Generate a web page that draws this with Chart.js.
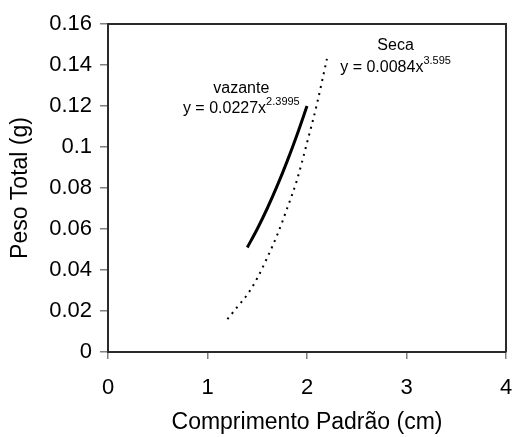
<!DOCTYPE html>
<html>
<head>
<meta charset="utf-8">
<script src="https://cdn.jsdelivr.net/npm/chart.js@4/dist/chart.umd.min.js"></script>
<style>
  html, body { margin: 0; padding: 0; background: #fff; }
  #wrap { width: 513px; height: 437px; }
</style>
</head>
<body>
<div id="wrap"><canvas id="c" width="513" height="437"></canvas></div>
<script>
// ---- data ----
const vazanteX = [1.40, 1.50, 1.60, 1.70, 1.80, 1.90, 2.00];
const vazanteY = [0.051, 0.060, 0.070, 0.081, 0.093, 0.106, 0.120];
const secaX = [1.20, 1.30, 1.40, 1.50, 1.60, 1.70, 1.80, 1.90, 2.00, 2.10, 2.20];
const secaY = [0.016, 0.022, 0.028, 0.036, 0.046, 0.057, 0.070, 0.084, 0.102, 0.121, 0.143];
const seriesNames = ['vazante', 'Seca'];
const equationBase = ['y = 0.0227x', 'y = 0.0084x'];
const equationExp = ['2.3995', '3.595'];
const labelAnchorX = [1.34, 2.89];
const nameAnchorY = [0.1283, 0.1495];
const eqAnchorY = [0.1187, 0.1385];
const xTitle = 'Comprimento Padrão (cm)';
const yTitle = 'Peso Total (g)';

const FONT = '"Liberation Sans", Arial, sans-serif';

const toPts = (xs, ys) => xs.map((x, i) => ({ x: x, y: ys[i] }));

const framePlugin = {
  id: 'frame',
  afterDatasetsDraw(chart) {
    const { ctx, chartArea: a } = chart;
    ctx.save();
    ctx.strokeStyle = '#2a2a2a';
    ctx.lineWidth = 2;
    ctx.beginPath();
    ctx.moveTo(a.left, a.top);
    ctx.lineTo(a.right, a.top);
    ctx.lineTo(a.right, a.bottom);
    ctx.stroke();
    ctx.restore();
  }
};

const labelPlugin = {
  id: 'eqLabels',
  afterDatasetsDraw(chart) {
    const { ctx, scales } = chart;
    ctx.save();
    ctx.fillStyle = '#000';
    for (let i = 0; i < seriesNames.length; i++) {
      const cx = scales.x.getPixelForValue(labelAnchorX[i]);
      const ny = scales.y.getPixelForValue(nameAnchorY[i]);
      const ey = scales.y.getPixelForValue(eqAnchorY[i]);
      ctx.font = '16px ' + FONT;
      ctx.textAlign = 'center';
      ctx.textBaseline = 'middle';
      ctx.fillText(seriesNames[i], cx, ny);
      const baseW = ctx.measureText(equationBase[i]).width;
      ctx.font = '11px ' + FONT;
      const expW = ctx.measureText(equationExp[i]).width;
      const left = cx - (baseW + expW) / 2;
      ctx.textAlign = 'left';
      ctx.font = '16px ' + FONT;
      ctx.fillText(equationBase[i], left, ey);
      ctx.font = '11px ' + FONT;
      ctx.fillText(equationExp[i], left + baseW, ey - 7);
    }
    ctx.restore();
  }
};

new Chart(document.getElementById('c'), {
  type: 'scatter',
  data: {
    datasets: [
      {
        label: seriesNames[0],
        data: toPts(vazanteX, vazanteY),
        showLine: true,
        borderColor: '#000',
        borderWidth: 3,
        pointRadius: 0,
        cubicInterpolationMode: 'monotone'
      },
      {
        label: seriesNames[1],
        data: toPts(secaX, secaY),
        showLine: true,
        borderColor: '#000',
        borderWidth: 2,
        borderDash: [2, 5],
        pointRadius: 0,
        cubicInterpolationMode: 'monotone'
      }
    ]
  },
  options: {
    responsive: false,
    animation: false,
    devicePixelRatio: 1,
    layout: { padding: { top: 24, right: 7, bottom: 0, left: 0 } },
    plugins: { legend: { display: false }, tooltip: { enabled: false } },
    scales: {
      x: {
        type: 'linear',
        min: 0, max: 4,
        ticks: { stepSize: 1, color: '#000', font: { family: FONT, size: 22 }, padding: 16, maxRotation: 0 },
        grid: { drawOnChartArea: false, drawTicks: true, tickLength: 7, color: '#808080', lineWidth: 1.5 },
        border: { display: true, color: '#2a2a2a', width: 2 },
        title: { display: true, text: xTitle, color: '#000', font: { family: FONT, size: 23 }, padding: { top: 0, bottom: 1 } },
        afterFit(s) { s.height = 85; s.paddingLeft = 0; s.paddingRight = 0; }
      },
      y: {
        type: 'linear',
        min: 0, max: 0.16,
        ticks: {
          stepSize: 0.02, color: '#000', font: { family: FONT, size: 22 }, padding: 8,
          callback: v => String(Math.round(v * 100) / 100)
        },
        grid: { drawOnChartArea: false, drawTicks: true, tickLength: 8, color: '#808080', lineWidth: 1.5 },
        border: { display: true, color: '#2a2a2a', width: 2 },
        title: { display: true, text: yTitle, color: '#000', font: { family: FONT, size: 23 }, padding: { top: 7, bottom: 0 } },
        afterFit(s) { s.width = 108; }
      }
    }
  },
  plugins: [framePlugin, labelPlugin]
});
</script>
</body>
</html>
